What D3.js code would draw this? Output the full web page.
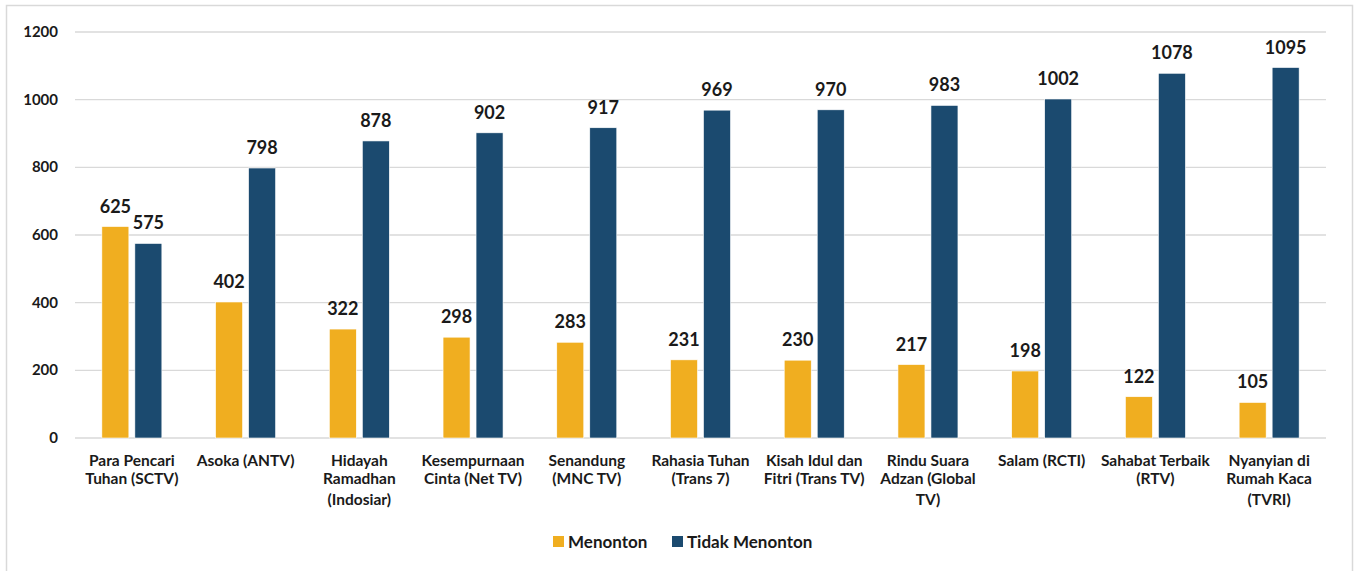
<!DOCTYPE html>
<meta charset="utf-8" />
<script src="https://d3js.org/d3.v7.min.js"></script>
<style>
  body { margin: 0; background: #fff; }
  text { font-family: Lato, "Open Sans", sans-serif; font-weight: bold; fill: #1a1a1a; }
</style>
<body>
<div id="chart"></div>
</body>
<script>
  // data
  const programs = [
    ["Para Pencari", "Tuhan (SCTV)"],
    ["Asoka (ANTV)"],
    ["Hidayah", "Ramadhan", "(Indosiar)"],
    ["Kesempurnaan", "Cinta (Net TV)"],
    ["Senandung", "(MNC TV)"],
    ["Rahasia Tuhan", "(Trans 7)"],
    ["Kisah Idul dan", "Fitri (Trans TV)"],
    ["Rindu Suara", "Adzan (Global", "TV)"],
    ["Salam (RCTI)"],
    ["Sahabat Terbaik", "(RTV)"],
    ["Nyanyian di", "Rumah Kaca", "(TVRI)"]
  ];
  const menonton = [625, 402, 322, 298, 283, 231, 230, 217, 198, 122, 105];
  const tidakMenonton = [575, 798, 878, 902, 917, 969, 970, 983, 1002, 1078, 1095];
  const seriesNames = ["Menonton", "Tidak Menonton"];
  const colors = ["#F0AE20", "#1B4A6F"];
  const yTicks = [0, 200, 400, 600, 800, 1000, 1200];

  const W = 1357, H = 571;
  const margin = {top: 32, right: 31, bottom: 133, left: 75};
  const width = W - margin.left - margin.right,
        height = H - margin.top - margin.bottom;

  const svg = d3.select("#chart").append("svg")
    .attr("width", W).attr("height", H);

  // outer frame
  svg.append("rect")
    .attr("x", 6.5).attr("y", 5.5)
    .attr("width", 1346).attr("height", 580)
    .attr("fill", "none").attr("stroke", "#d9d9d9").attr("stroke-width", 1.5);

  const g = svg.append("g")
    .attr("transform", "translate(" + margin.left + "," + margin.top + ")");

  const keys = programs.map((d, i) => i);
  const x = d3.scaleBand().domain(keys).range([0, width]);
  const y = d3.scaleLinear().domain([0, 1200]).range([height, 0]);

  // gridlines
  g.append("g").selectAll("line")
    .data(yTicks)
    .enter().append("line")
    .attr("x1", 0).attr("x2", width)
    .attr("y1", d => y(d)).attr("y2", d => y(d))
    .attr("stroke", "#d9d9d9").attr("stroke-width", 1.3);

  // y axis labels
  g.append("g").selectAll("text")
    .data(yTicks)
    .enter().append("text")
    .attr("x", -17).attr("y", d => y(d) + 5)
    .attr("text-anchor", "end")
    .style("font-size", "15px")
    .text(d => d);

  const barW = 27, gap = 6;
  const series = [menonton, tidakMenonton];

  series.forEach(function(vals, s) {
    const off = s === 0 ? -(gap / 2 + barW) : gap / 2;
    const grp = g.append("g");
    grp.selectAll("rect")
      .data(vals)
      .enter().append("rect")
      .attr("x", (d, i) => x(i) + x.bandwidth() / 2 + off)
      .attr("y", d => y(d))
      .attr("width", barW)
      .attr("height", d => height - y(d))
      .attr("fill", colors[s])
      .attr("stroke", "#fff").attr("stroke-width", 0.6);

    grp.selectAll("text")
      .data(vals)
      .enter().append("text")
      .attr("x", (d, i) => x(i) + x.bandwidth() / 2 + off + barW / 2)
      .attr("y", d => y(d) - 14)
      .attr("text-anchor", "middle")
      .style("font-size", "18px")
      .text(d => d);
  });

  // category labels
  const lineY = [0, 17.5, 38.5];
  const cat = g.append("g").selectAll("text")
    .data(programs)
    .enter().append("text")
    .attr("text-anchor", "middle")
    .style("font-size", "15.5px")
    .attr("transform", (d, i) => "translate(" + (x(i) + x.bandwidth() / 2) + "," + (height + 28) + ")");
  cat.selectAll("tspan")
    .data(d => d)
    .enter().append("tspan")
    .attr("x", 0)
    .attr("y", (d, j) => lineY[j])
    .text(d => d);

  // legend
  const legend = svg.append("g").attr("transform", "translate(553,536)");
  const lx = [0, 119];
  seriesNames.forEach(function(name, s) {
    legend.append("rect")
      .attr("x", lx[s]).attr("y", 0)
      .attr("width", 11).attr("height", 11)
      .attr("fill", colors[s]);
    legend.append("text")
      .attr("x", lx[s] + 15).attr("y", 12)
      .style("font-size", "17px")
      .text(name);
  });
</script>
